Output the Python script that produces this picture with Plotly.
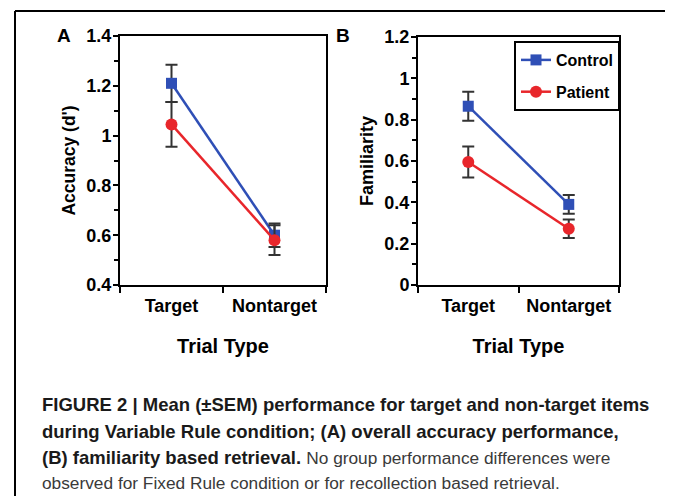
import plotly.graph_objects as go

OFF = 8  # page body margin in the viewer
W, H = 673 - OFF, 496 - OFF

categories = ["Target", "Nontarget"]
series_names = ["Control", "Patient"]

acc_control = [1.21, 0.60]
acc_control_err = [0.075, 0.047]
acc_patient = [1.045, 0.58]
acc_patient_err = [0.09, 0.06]

fam_control = [0.865, 0.39]
fam_control_err = [0.07, 0.045]
fam_patient = [0.595, 0.272]
fam_patient_err = [0.075, 0.045]

acc_ticks = [0.4, 0.6, 0.8, 1.0, 1.2, 1.4]
fam_ticks = [0.0, 0.2, 0.4, 0.6, 0.8, 1.0, 1.2]

BLUE = "#2f4fb6"
RED = "#e8262b"
ERR = "#333333"
FONT = "Liberation Sans, Arial, Helvetica, sans-serif"


def px(x):
    return (x - OFF) / W


def py(y):
    return 1 - (y - OFF) / H


fig = go.Figure()

styles = {
    "Control": dict(color=BLUE, symbol="square", size=11),
    "Patient": dict(color=RED, symbol="circle", size=12),
}

panels = [
    ("x", "y", {"Control": (acc_control, acc_control_err), "Patient": (acc_patient, acc_patient_err)}, False),
    ("x2", "y2", {"Control": (fam_control, fam_control_err), "Patient": (fam_patient, fam_patient_err)}, True),
]

for xa, ya, data, show in panels:
    for name in series_names:
        vals, errs = data[name]
        st = styles[name]
        fig.add_trace(go.Scatter(
            x=categories, y=vals, name=name, xaxis=xa, yaxis=ya,
            mode="lines+markers",
            line=dict(color=st["color"], width=2.5),
            marker=dict(color=st["color"], symbol=st["symbol"], size=st["size"]),
            error_y=dict(type="data", array=errs, visible=True, color=ERR, thickness=2, width=6),
            showlegend=show, legendgroup=name,
        ))

common_x = dict(
    type="category", range=[-0.5, 1.5], tickson="boundaries",
    ticks="outside", ticklen=6, tickwidth=2, tickcolor="black",
    showline=True, linewidth=2, linecolor="black", mirror=True,
    showgrid=False, zeroline=False, automargin=False,
    ticklabelstandoff=3,
    tickfont=dict(family=FONT, size=18, color="black", weight="bold"),
    title=dict(text="Trial Type", font=dict(family=FONT, size=20, color="black", weight="bold"), standoff=24),
)
common_y = dict(
    ticks="outside", ticklen=5, tickwidth=2, tickcolor="black",
    showline=True, linewidth=2, linecolor="black", mirror=True,
    showgrid=False, zeroline=False, automargin=False,
    ticklabelstandoff=-2,
    minor=dict(ticks="outside", ticklen=4, tickwidth=1.5, tickcolor="black", dtick=0.1),
    tickfont=dict(family=FONT, size=18, color="black", weight="bold"),
)

fig.update_layout(
    width=W, height=H,
    margin=dict(l=0, r=0, t=0, b=0, autoexpand=False),
    paper_bgcolor="white", plot_bgcolor="white",
    font=dict(family=FONT, color="black"),
    xaxis=dict(domain=[px(120), px(326)], anchor="y", **common_x),
    yaxis=dict(domain=[py(285), py(36)], anchor="x", range=[0.4, 1.4],
               tickvals=acc_ticks, ticktext=["0.4", "0.6", "0.8", "1", "1.2", "1.4"],
               minor_tick0=0.4,
               title=dict(text="Accuracy (d')", font=dict(family=FONT, size=17.5, color="black", weight="bold"), standoff=6),
               **common_y),
    xaxis2=dict(domain=[px(418), px(619)], anchor="y2", **common_x),
    yaxis2=dict(domain=[py(285), py(37)], anchor="x2", range=[0, 1.2],
                tickvals=fam_ticks, ticktext=["0", "0.2", "0.4", "0.6", "0.8", "1", "1.2"],
                minor_tick0=0,
                title=dict(text="Familiarity", font=dict(family=FONT, size=18, color="black", weight="bold"), standoff=6),
                **common_y),
    legend=dict(
        x=px(620), y=py(41), xanchor="right", yanchor="top",
        bgcolor="white", bordercolor="black", borderwidth=2,
        font=dict(family=FONT, size=16, color="black", weight="bold"),
        tracegroupgap=8, traceorder="grouped",
    ),
    showlegend=True,
)

# Panel letters
fig.add_annotation(x=px(64), y=py(36), xref="paper", yref="paper", text="<b>A</b>",
                   xanchor="center", yanchor="middle",
                   showarrow=False, font=dict(family=FONT, size=19, color="black"))
fig.add_annotation(x=px(343), y=py(36), xref="paper", yref="paper", text="<b>B</b>",
                   xanchor="center", yanchor="middle",
                   showarrow=False, font=dict(family=FONT, size=19, color="black"))

# Caption
REG = "<span style='color:#3a3a3a;font-size:17.3px'>{}</span>"
caption_lines = [
    ("<b>FIGURE 2 | Mean (±SEM) performance for target and non-target items</b>", 404),
    ("<b>during Variable Rule condition; (A) overall accuracy performance,</b>", 431),
    ("<b>(B) familiarity based retrieval.</b> " + REG.format("No group performance differences were"), 457),
    (REG.format("observed for Fixed Rule condition or for recollection based retrieval."), 483),
]
for txt, yy in caption_lines:
    fig.add_annotation(x=px(40), y=py(yy), xref="paper", yref="paper", text=txt,
                       showarrow=False, xanchor="left", yanchor="middle", align="left",
                       font=dict(family=FONT, size=18.5, color="#1a1a1a"))

# Frame around figure
frame = dict(type="line", xref="paper", yref="paper", line=dict(color="black", width=2))
fig.add_shape(x0=px(15), x1=px(15), y0=py(11), y1=0, **frame)
fig.add_shape(x0=px(15), x1=px(671), y0=py(11), y1=py(11), **frame)
fig.add_shape(x0=px(671), x1=px(671), y0=py(11), y1=0, **frame)

fig.write_html("out.html")
